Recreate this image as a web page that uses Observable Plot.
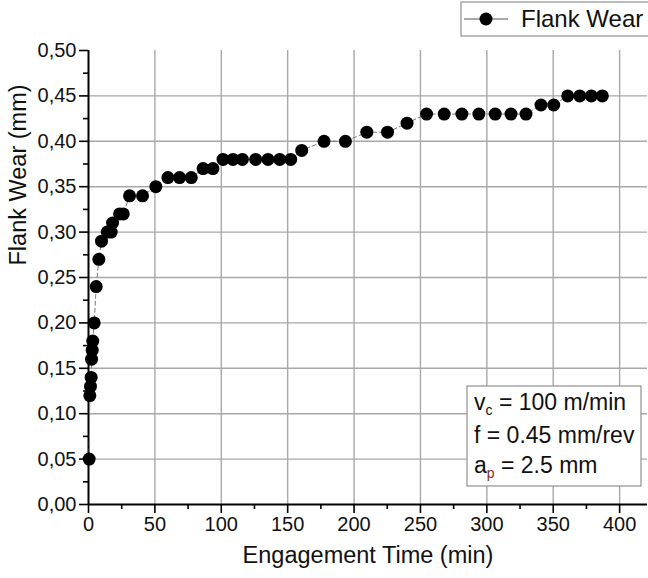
<!DOCTYPE html>
<html><head><meta charset="utf-8">
<script src="https://cdn.jsdelivr.net/npm/d3@7"></script>
<script src="https://cdn.jsdelivr.net/npm/@observablehq/plot@0.6"></script>
<style>body{margin:0;background:#fff} #chart{width:648px;height:578px}</style>
</head><body><div id="chart"></div>
<script>
const time = [0.5, 1, 1.5, 2, 2.3, 2.8, 3.2, 4.3, 5.8, 7.8,
  9.8, 14.1, 17.1, 18.1, 23.4, 26.2, 30.9, 40.7, 50.7, 59.8,
  68.6, 77.4, 86.3, 93.7, 101.3, 108.8, 115.9, 125.9, 135.2, 144,
  152.3, 160.6, 177.4, 193.5, 209.6, 225.2, 239.9, 254.6, 267.9, 281.2,
  294, 306.3, 318.2, 329.5, 340.8, 350.4, 360.9, 370, 378.7, 387];
const wear = [0.05, 0.12, 0.13, 0.14, 0.16, 0.17, 0.18, 0.20, 0.24, 0.27,
  0.29, 0.30, 0.30, 0.31, 0.32, 0.32, 0.34, 0.34, 0.35, 0.36,
  0.36, 0.36, 0.37, 0.37, 0.38, 0.38, 0.38, 0.38, 0.38, 0.38,
  0.38, 0.39, 0.40, 0.40, 0.41, 0.41, 0.42, 0.43, 0.43, 0.43,
  0.43, 0.43, 0.43, 0.43, 0.44, 0.44, 0.45, 0.45, 0.45, 0.45];
const xMajor = [0, 50, 100, 150, 200, 250, 300, 350, 400];
const xMinor = [25, 75, 125, 175, 225, 275, 325, 375];
const yMajor = [0, 0.05, 0.10, 0.15, 0.20, 0.25, 0.30, 0.35, 0.40, 0.45, 0.50];
const yMinor = [0.025, 0.075, 0.125, 0.175, 0.225, 0.275, 0.325, 0.375, 0.425, 0.475];
const seriesName = "Flank Wear";
const xTitle = "Engagement Time (min)";
const yTitle = "Flank Wear (mm)";

const data = time.map((t, i) => ({t, w: wear[i]}));
const fmtY = d => d3.format(".2f")(d).replace(".", ",");
const font = "Liberation Sans, Arial, Helvetica, sans-serif";
const gridStyle = {stroke: "#a8a8a8", strokeOpacity: 1, strokeWidth: 1.4};

const plot = Plot.plot({
  width: 648, height: 578,
  marginLeft: 88, marginRight: 1, marginTop: 50, marginBottom: 74,
  style: {fontFamily: font, background: "#fff", color: "#000"},
  x: {domain: [0, 421]},
  y: {domain: [0, 0.5]},
  marks: [
    Plot.gridX(xMajor.filter(d => d > 0), gridStyle),
    Plot.gridY(yMajor.filter(d => d > 0 && d < 0.5), gridStyle),
    Plot.axisX(xMinor, {tickSize: 5, text: null, strokeWidth: 1.6, label: null}),
    Plot.axisX(xMajor, {tickSize: 9, tickPadding: 3, fontSize: 20, strokeWidth: 1.6, label: null, fill: "#111"}),
    Plot.axisY(yMinor, {tickSize: 5, text: null, strokeWidth: 1.6, label: null}),
    Plot.axisY(yMajor, {tickSize: 9, tickPadding: 3, fontSize: 20, strokeWidth: 1.6, tickFormat: fmtY, label: null, fill: "#111"}),
    Plot.ruleX([0], {stroke: "#000", strokeWidth: 2}),
    Plot.ruleY([0], {stroke: "#000", strokeWidth: 2}),
    Plot.line(data, {x: "t", y: "w", stroke: "#7a7a7a", strokeWidth: 1, strokeDasharray: "4,3"}),
    Plot.dot(data, {x: "t", y: "w", r: 6.5, fill: "#000", stroke: "none"}),
    Plot.text([xTitle], {frameAnchor: "bottom", dy: 51, lineAnchor: "middle", fontSize: 23.5, fill: "#111"}),
    Plot.text([yTitle], {frameAnchor: "left", dx: -70, dy: -12, rotate: -90, lineAnchor: "middle", fontSize: 23.5, fill: "#111"})
  ]
});
document.getElementById("chart").appendChild(plot);

const svg = d3.select(plot);
// Legend
const lg = svg.append("g").attr("font-family", font).attr("text-anchor", "start");
lg.append("rect").attr("x", 461).attr("y", 2).attr("width", 190).attr("height", 34)
  .attr("fill", "#fff").attr("stroke", "#999").attr("stroke-width", 1.3);
lg.append("line").attr("x1", 464).attr("x2", 508).attr("y1", 19).attr("y2", 19)
  .attr("stroke", "#555").attr("stroke-width", 1);
lg.append("circle").attr("cx", 486).attr("cy", 19).attr("r", 6.5).attr("fill", "#000");
lg.append("text").attr("x", 521).attr("y", 27).attr("font-size", 24).attr("fill", "#111").text(seriesName);

// Annotation box
const ab = svg.append("g").attr("font-family", font).attr("font-size", 23).attr("fill", "#111").attr("text-anchor", "start");
ab.append("rect").attr("x", 467).attr("y", 386).attr("width", 174).attr("height", 100)
  .attr("fill", "#fff").attr("stroke", "#999").attr("stroke-width", 1.3);
const t1 = ab.append("text").attr("x", 474).attr("y", 410);
t1.append("tspan").text("v");
t1.append("tspan").attr("font-size", 14).attr("dy", 5).text("c");
t1.append("tspan").attr("dy", -5).text(" = 100 m/min");
ab.append("text").attr("x", 474).attr("y", 443).text("f = 0.45 mm/rev");
const t3 = ab.append("text").attr("x", 474).attr("y", 473);
t3.append("tspan").text("a");
t3.append("tspan").attr("font-size", 14).attr("dy", 5).attr("fill", "#8a2a20").text("p");
t3.append("tspan").attr("dy", -5).text(" = 2.5 mm");
</script>
</body></html>
